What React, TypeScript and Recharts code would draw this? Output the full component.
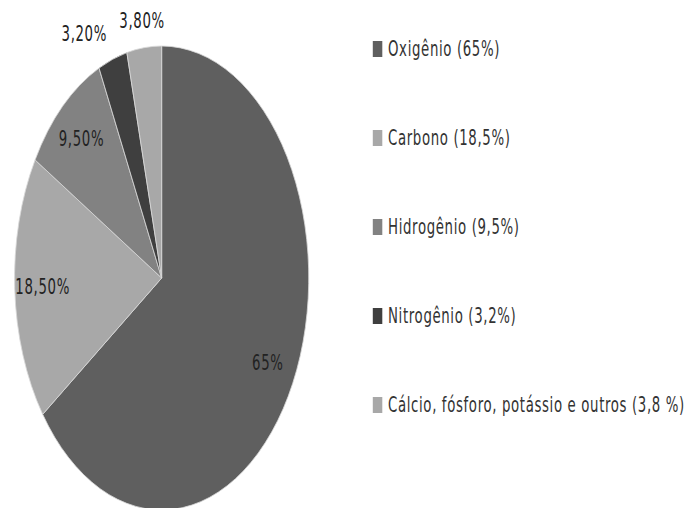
import React from 'react';
import { PieChart, Pie, Cell, Legend } from 'recharts';

// Composição do corpo humano (%)
const elementos = ['Oxigênio', 'Carbono', 'Hidrogênio', 'Nitrogênio', 'Cálcio, fósforo, potássio e outros'];
const valores = [65, 18.5, 9.5, 3.2, 3.8];
const rotulos = ['65%', '18,50%', '9,50%', '3,20%', '3,80%'];
const legendas = [
  'Oxigênio (65%)',
  'Carbono (18,5%)',
  'Hidrogênio (9,5%)',
  'Nitrogênio (3,2%)',
  'Cálcio, fósforo, potássio e outros (3,8 %)',
];
const cores = ['#5f5f5f', '#a8a8a8', '#828282', '#3f3f3f', '#a8a8a8'];

// the original picture is squeezed horizontally, so draw wide and compress
const SQUEEZE = 0.634;
const W = Math.round(689 / SQUEEZE);
const H = 508;

const data = elementos.map((nome, i) => ({
  nome,
  valor: valores[i],
  rotulo: rotulos[i],
  legenda: legendas[i],
}));

const RADIAN = Math.PI / 180;

const renderLabel = (props: any) => {
  const { cx, cy, midAngle, outerRadius, payload, value } = props;
  const small = value < 5;
  const r = small ? outerRadius + 27 : outerRadius * 0.81;
  const cos = Math.cos(-midAngle * RADIAN);
  const x = cx + r * cos;
  const y = cy + r * Math.sin(-midAngle * RADIAN);
  const anchor = small && cos < -0.2 ? 'end' : 'middle';
  return (
    <text
      x={x}
      y={y}
      fill="#222"
      fontSize={21}
      letterSpacing={1}
      fontFamily="DejaVu Sans"
      textAnchor={anchor}
      dominantBaseline="central"
    >
      {payload.rotulo}
    </text>
  );
};

const LegendaLateral = (props: any) => {
  const payload = [...(props.payload || [])].sort(
    (a: any, b: any) => elementos.indexOf(a.payload.nome) - elementos.indexOf(b.payload.nome)
  );
  return (
    <div style={{ display: 'flex', flexDirection: 'column' }}>
      {payload.map((item: any, i: number) => (
        <div key={i} style={{ height: 89, display: 'flex', alignItems: 'center' }}>
          <span
            style={{
              display: 'inline-block',
              width: 15,
              height: 16,
              background: item.color,
              marginRight: 9,
            }}
          />
          <span
            style={{
              fontFamily: 'DejaVu Sans',
              fontSize: 21,
              letterSpacing: 1,
              color: '#333',
              whiteSpace: 'nowrap',
            }}
          >
            {item.payload.legenda}
          </span>
        </div>
      ))}
    </div>
  );
};

export default function App() {
  return (
    <div style={{ position: 'absolute', left: 0, top: 0, width: 689, height: H, overflow: 'hidden', background: '#fff' }}>
      <div style={{ width: W, height: H, transform: `scaleX(${SQUEEZE})`, transformOrigin: '0 0' }}>
        <PieChart width={W} height={H} margin={{ top: 0, right: 0, bottom: 0, left: 0 }}>
          <Pie
            data={data}
            dataKey="valor"
            nameKey="nome"
            cx={255}
            cy={278}
            outerRadius={232}
            startAngle={90}
            endAngle={-270}
            stroke="#d8d8d8"
            strokeWidth={1}
            label={renderLabel}
            labelLine={false}
            isAnimationActive={false}
          >
            {data.map((d, i) => (
              <Cell key={d.nome} fill={cores[i]} />
            ))}
          </Pie>
          <Legend
            layout="vertical"
            content={<LegendaLateral />}
            wrapperStyle={{ left: 588, top: 4, width: 560 }}
          />
        </PieChart>
      </div>
    </div>
  );
}
